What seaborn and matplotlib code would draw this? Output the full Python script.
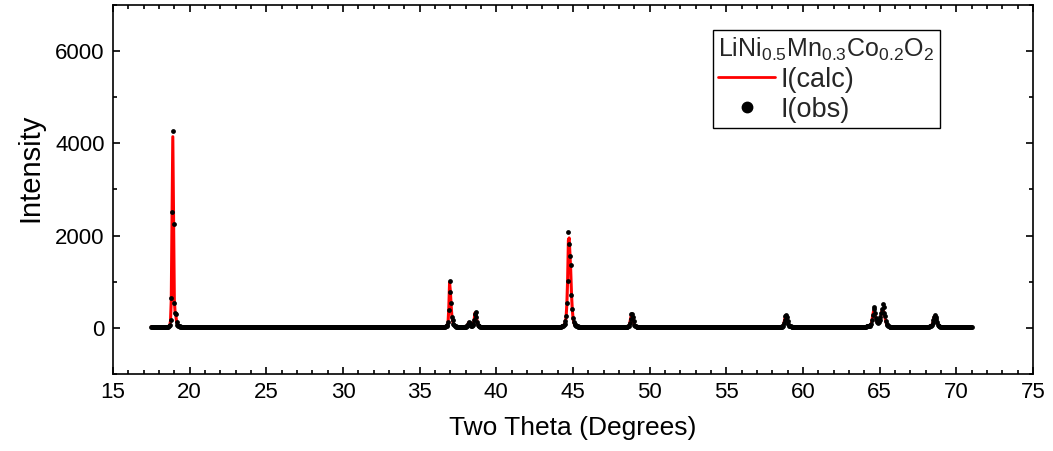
import numpy as np
import matplotlib
matplotlib.use("Agg")
import matplotlib.pyplot as plt
import seaborn as sns
from matplotlib.lines import Line2D
from matplotlib.ticker import MultipleLocator

# ---------------- data ----------------
# scan grid: 2-theta from 17.50 to 71.00 deg in 0.05 deg steps (20 values per row = 1 deg)
scan_start = 17.50
scan_step = 0.05

i_obs = [
    22, 21, 23, 20, 22, 21, 20, 22, 23, 21, 20, 22, 21, 23, 22, 21, 23, 24, 25, 25,  # 17.5
    26, 27, 28, 32, 60, 174, 645, 2507, 4267, 2254, 550, 320, 310, 137, 70, 45, 35, 30, 27, 25,  # 18.5
    24, 23, 22, 22, 21, 22, 20, 21, 22, 20, 21, 22, 20, 21, 19, 21, 20, 22, 21, 20,  # 19.5
    21, 20, 19, 21, 20, 22, 20, 19, 21, 20, 20, 21, 19, 20, 22, 20, 21, 19, 20, 21,  # 20.5
    20, 19, 21, 20, 22, 21, 20, 19, 20, 21, 20, 22, 19, 20, 21, 20, 19, 21, 20, 20,  # 21.5
    19, 21, 20, 20, 22, 19, 20, 21, 20, 19, 21, 20, 22, 20, 19, 21, 20, 20, 21, 19,  # 22.5
    20, 21, 19, 20, 20, 22, 21, 19, 20, 21, 20, 19, 21, 22, 20, 20, 19, 21, 20, 21,  # 23.5
    21, 20, 20, 19, 21, 20, 22, 20, 21, 19, 20, 21, 20, 20, 22, 21, 19, 20, 21, 20,  # 24.5
    20, 22, 21, 20, 19, 20, 21, 20, 21, 20, 19, 22, 20, 21, 20, 19, 20, 21, 22, 20,  # 25.5
    19, 20, 21, 21, 20, 19, 22, 20, 20, 21, 20, 19, 20, 21, 21, 20, 22, 19, 20, 21,  # 26.5
    21, 19, 20, 22, 20, 21, 20, 19, 21, 20, 22, 20, 21, 19, 20, 20, 21, 22, 20, 19,  # 27.5
    20, 21, 22, 20, 19, 21, 20, 20, 19, 21, 20, 21, 22, 20, 19, 21, 20, 21, 20, 20,  # 28.5
    22, 20, 19, 21, 20, 21, 20, 22, 20, 19, 21, 20, 20, 21, 19, 22, 20, 21, 20, 19,  # 29.5
    20, 20, 21, 19, 22, 20, 21, 20, 19, 20, 21, 22, 20, 19, 21, 20, 20, 21, 22, 20,  # 30.5
    21, 22, 20, 20, 19, 21, 20, 21, 20, 22, 19, 20, 21, 20, 20, 19, 22, 21, 20, 21,  # 31.5
    19, 20, 21, 22, 20, 20, 21, 19, 20, 21, 22, 20, 19, 21, 20, 21, 20, 19, 21, 20,  # 32.5
    20, 21, 20, 19, 21, 22, 20, 21, 20, 19, 20, 21, 21, 20, 22, 20, 19, 20, 21, 22,  # 33.5
    21, 20, 22, 20, 21, 19, 20, 20, 21, 22, 20, 19, 21, 20, 20, 21, 22, 20, 21, 21,  # 34.5
    20, 19, 21, 20, 22, 21, 20, 21, 20, 19, 21, 22, 20, 21, 21, 22, 21, 22, 22, 23,  # 35.5
    23, 24, 25, 27, 31, 38, 60, 120, 390, 1007, 767, 537, 246, 160, 90, 55, 40, 32, 28, 25,  # 36.5
    24, 23, 22, 22, 21, 22, 23, 23, 24, 26, 28, 33, 48, 90, 137, 110, 60, 42, 40, 52,  # 37.5
    80, 174, 300, 354, 246, 120, 60, 40, 31, 27, 25, 24, 23, 22, 22, 21, 22, 21, 20, 21,  # 38.5
    20, 21, 22, 20, 19, 21, 20, 20, 21, 22, 20, 19, 21, 20, 21, 20, 22, 20, 19, 21,  # 39.5
    21, 20, 19, 21, 20, 22, 20, 21, 20, 19, 21, 20, 22, 21, 20, 20, 19, 21, 20, 22,  # 40.5
    20, 21, 20, 22, 19, 20, 21, 20, 21, 20, 22, 21, 19, 20, 20, 21, 22, 20, 21, 20,  # 41.5
    19, 20, 22, 21, 20, 21, 19, 20, 21, 20, 20, 22, 21, 20, 19, 21, 20, 21, 22, 20,  # 42.5
    21, 20, 22, 21, 20, 21, 22, 21, 22, 23, 23, 24, 25, 26, 28, 30, 34, 40, 55, 90,  # 43.5
    140, 250, 550, 1007, 2080, 1826, 1565, 1370, 717, 406, 210, 120, 75, 52, 42, 35, 30, 27, 25, 24,  # 44.5
    23, 22, 22, 21, 20, 21, 22, 20, 21, 19, 20, 21, 20, 22, 20, 21, 19, 20, 21, 20,  # 45.5
    20, 21, 19, 20, 22, 20, 21, 20, 20, 19, 21, 22, 20, 21, 20, 19, 20, 21, 20, 22,  # 46.5
    21, 20, 20, 22, 21, 19, 20, 21, 20, 21, 22, 20, 19, 21, 20, 21, 22, 21, 22, 23,  # 47.5
    24, 26, 32, 48, 100, 200, 290, 300, 230, 140, 70, 45, 33, 28, 25, 23, 22, 22, 21, 20,  # 48.5
    21, 20, 19, 21, 20, 22, 20, 21, 20, 19, 21, 20, 20, 22, 21, 20, 19, 21, 20, 21,  # 49.5
    20, 22, 20, 19, 21, 20, 21, 20, 22, 20, 19, 21, 20, 21, 20, 20, 22, 19, 20, 21,  # 50.5
    19, 20, 21, 20, 20, 22, 21, 19, 20, 21, 20, 22, 20, 19, 21, 20, 21, 20, 22, 20,  # 51.5
    21, 21, 20, 22, 19, 20, 21, 20, 21, 20, 19, 21, 22, 20, 20, 21, 19, 20, 21, 20,  # 52.5
    20, 19, 21, 20, 21, 22, 20, 20, 19, 21, 20, 21, 20, 22, 21, 20, 20, 19, 21, 22,  # 53.5
    22, 20, 20, 21, 19, 20, 21, 22, 20, 21, 20, 19, 21, 20, 22, 20, 21, 20, 19, 20,  # 54.5
    20, 21, 22, 20, 21, 19, 20, 20, 21, 22, 20, 21, 19, 20, 21, 20, 22, 21, 20, 19,  # 55.5
    21, 20, 19, 21, 20, 21, 22, 20, 19, 20, 21, 20, 22, 21, 20, 20, 19, 21, 20, 21,  # 56.5
    20, 22, 20, 21, 20, 19, 21, 20, 22, 20, 21, 20, 21, 22, 20, 21, 21, 22, 22, 23,  # 57.5
    24, 26, 29, 36, 50, 100, 180, 260, 283, 230, 150, 80, 48, 36, 30, 26, 24, 23, 22, 21,  # 58.5
    20, 21, 20, 22, 19, 21, 20, 20, 21, 22, 20, 19, 21, 20, 21, 20, 20, 22, 21, 20,  # 59.5
    21, 19, 20, 21, 20, 22, 20, 21, 19, 20, 21, 20, 22, 20, 21, 19, 20, 21, 20, 21,  # 60.5
    20, 20, 22, 21, 20, 19, 21, 20, 21, 20, 22, 21, 20, 19, 20, 21, 22, 20, 21, 20,  # 61.5
    22, 20, 21, 20, 19, 21, 20, 22, 20, 21, 20, 19, 21, 22, 20, 20, 21, 19, 20, 21,  # 62.5
    21, 20, 22, 21, 21, 22, 23, 22, 24, 25, 26, 27, 29, 31, 33, 36, 40, 48, 60, 90,  # 63.5
    180, 283, 463, 420, 333, 220, 160, 120, 110, 120, 160, 230, 330, 420, 515, 450, 333, 250, 150, 80,  # 64.5
    52, 38, 31, 27, 25, 24, 23, 22, 22, 21, 22, 20, 21, 21, 20, 22, 21, 20, 21, 20,  # 65.5
    19, 21, 20, 22, 20, 21, 20, 19, 21, 20, 22, 20, 21, 20, 19, 21, 20, 22, 20, 21,  # 66.5
    20, 21, 20, 22, 21, 21, 22, 21, 22, 23, 22, 23, 24, 25, 27, 30, 35, 45, 65, 100,  # 67.5
    160, 240, 270, 246, 200, 130, 70, 45, 35, 29, 26, 24, 23, 22, 21, 22, 21, 20, 21, 20,  # 68.5
    21, 20, 19, 21, 20, 22, 20, 21, 20, 19, 21, 20, 22, 20, 21, 20, 19, 21, 20, 20,  # 69.5
    20, 21, 20, 19, 21, 20, 22, 20, 21, 20, 21,  # 70.5 - 71.0
]

i_calc = [
    22, 22, 22, 22, 22, 22, 22, 22, 22, 22, 22, 22, 22, 22, 22, 22, 23, 23, 24, 25,  # 17.5
    26, 27, 28, 32, 50, 150, 600, 2450, 4145, 2300, 600, 330, 260, 130, 70, 45, 35, 30, 27, 25,  # 18.5
    24, 23, 22, 22, 22, 22, 22, 22, 22, 22, 22, 22, 22, 22, 22, 22, 22, 22, 22, 22,  # 19.5
    21, 21, 21, 21, 21, 21, 21, 21, 21, 21, 21, 21, 21, 21, 21, 21, 21, 21, 21, 21,  # 20.5
    21, 21, 21, 21, 21, 21, 21, 21, 21, 21, 21, 21, 21, 21, 21, 21, 21, 21, 21, 21,  # 21.5
    21, 21, 21, 21, 21, 21, 21, 21, 21, 21, 21, 21, 21, 21, 21, 21, 21, 21, 21, 21,  # 22.5
    21, 21, 21, 21, 21, 21, 21, 21, 21, 21, 21, 21, 21, 21, 21, 21, 21, 21, 21, 21,  # 23.5
    21, 21, 21, 21, 21, 21, 21, 21, 21, 21, 21, 21, 21, 21, 21, 21, 21, 21, 21, 21,  # 24.5
    21, 21, 21, 21, 21, 21, 21, 21, 21, 21, 21, 21, 21, 21, 21, 21, 21, 21, 21, 21,  # 25.5
    21, 21, 21, 21, 21, 21, 21, 21, 21, 21, 21, 21, 21, 21, 21, 21, 21, 21, 21, 21,  # 26.5
    21, 21, 21, 21, 21, 21, 21, 21, 21, 21, 21, 21, 21, 21, 21, 21, 21, 21, 21, 21,  # 27.5
    21, 21, 21, 21, 21, 21, 21, 21, 21, 21, 21, 21, 21, 21, 21, 21, 21, 21, 21, 21,  # 28.5
    21, 21, 21, 21, 21, 21, 21, 21, 21, 21, 21, 21, 21, 21, 21, 21, 21, 21, 21, 21,  # 29.5
    21, 21, 21, 21, 21, 21, 21, 21, 21, 21, 21, 21, 21, 21, 21, 21, 21, 21, 21, 21,  # 30.5
    21, 21, 21, 21, 21, 21, 21, 21, 21, 21, 21, 21, 21, 21, 21, 21, 21, 21, 21, 21,  # 31.5
    21, 21, 21, 21, 21, 21, 21, 21, 21, 21, 21, 21, 21, 21, 21, 21, 21, 21, 21, 21,  # 32.5
    21, 21, 21, 21, 21, 21, 21, 21, 21, 21, 21, 21, 21, 21, 21, 21, 21, 21, 21, 21,  # 33.5
    21, 21, 21, 21, 21, 21, 21, 21, 21, 21, 21, 21, 21, 21, 21, 21, 21, 21, 21, 21,  # 34.5
    21, 21, 21, 21, 21, 21, 21, 21, 21, 21, 21, 21, 21, 21, 21, 22, 22, 22, 22, 22,  # 35.5
    22, 23, 25, 27, 31, 38, 58, 110, 420, 980, 800, 500, 260, 150, 85, 55, 40, 32, 28, 25,  # 36.5
    24, 23, 22, 22, 22, 22, 22, 23, 24, 26, 28, 32, 46, 85, 120, 105, 62, 43, 42, 52,  # 37.5
    78, 160, 320, 330, 250, 120, 62, 40, 31, 27, 25, 24, 23, 22, 22, 21, 21, 21, 21, 21,  # 38.5
    21, 21, 21, 21, 21, 21, 21, 21, 21, 21, 21, 21, 21, 21, 21, 21, 21, 21, 21, 21,  # 39.5
    21, 21, 21, 21, 21, 21, 21, 21, 21, 21, 21, 21, 21, 21, 21, 21, 21, 21, 21, 21,  # 40.5
    21, 21, 21, 21, 21, 21, 21, 21, 21, 21, 21, 21, 21, 21, 21, 21, 21, 21, 21, 21,  # 41.5
    21, 21, 21, 21, 21, 21, 21, 21, 21, 21, 21, 21, 21, 21, 21, 21, 21, 21, 21, 21,  # 42.5
    21, 21, 21, 21, 21, 21, 21, 21, 22, 22, 23, 24, 25, 26, 28, 30, 34, 40, 55, 88,  # 43.5
    130, 230, 520, 1050, 1900, 1950, 1600, 1250, 750, 420, 220, 120, 75, 52, 42, 35, 30, 27, 25, 24,  # 44.5
    23, 22, 22, 21, 21, 21, 21, 21, 21, 21, 21, 21, 21, 21, 21, 21, 21, 21, 21, 21,  # 45.5
    21, 21, 21, 21, 21, 21, 21, 21, 21, 21, 21, 21, 21, 21, 21, 21, 21, 21, 21, 21,  # 46.5
    21, 21, 21, 21, 21, 21, 21, 21, 21, 21, 21, 21, 21, 21, 21, 21, 21, 22, 22, 23,  # 47.5
    24, 26, 32, 47, 95, 190, 270, 280, 220, 130, 68, 45, 33, 28, 25, 23, 22, 22, 21, 21,  # 48.5
    21, 21, 21, 21, 21, 21, 21, 21, 21, 21, 21, 21, 21, 21, 21, 21, 21, 21, 21, 21,  # 49.5
    21, 21, 21, 21, 21, 21, 21, 21, 21, 21, 21, 21, 21, 21, 21, 21, 21, 21, 21, 21,  # 50.5
    21, 21, 21, 21, 21, 21, 21, 21, 21, 21, 21, 21, 21, 21, 21, 21, 21, 21, 21, 21,  # 51.5
    21, 21, 21, 21, 21, 21, 21, 21, 21, 21, 21, 21, 21, 21, 21, 21, 21, 21, 21, 21,  # 52.5
    21, 21, 21, 21, 21, 21, 21, 21, 21, 21, 21, 21, 21, 21, 21, 21, 21, 21, 21, 21,  # 53.5
    21, 21, 21, 21, 21, 21, 21, 21, 21, 21, 21, 21, 21, 21, 21, 21, 21, 21, 21, 21,  # 54.5
    21, 21, 21, 21, 21, 21, 21, 21, 21, 21, 21, 21, 21, 21, 21, 21, 21, 21, 21, 21,  # 55.5
    21, 21, 21, 21, 21, 21, 21, 21, 21, 21, 21, 21, 21, 21, 21, 21, 21, 21, 21, 21,  # 56.5
    21, 21, 21, 21, 21, 21, 21, 21, 21, 21, 21, 21, 21, 21, 21, 21, 21, 22, 22, 23,  # 57.5
    24, 26, 29, 36, 50, 95, 175, 245, 265, 225, 150, 80, 48, 36, 30, 26, 24, 23, 22, 21,  # 58.5
    21, 21, 21, 21, 21, 21, 21, 21, 21, 21, 21, 21, 21, 21, 21, 21, 21, 21, 21, 21,  # 59.5
    21, 21, 21, 21, 21, 21, 21, 21, 21, 21, 21, 21, 21, 21, 21, 21, 21, 21, 21, 21,  # 60.5
    21, 21, 21, 21, 21, 21, 21, 21, 21, 21, 21, 21, 21, 21, 21, 21, 21, 21, 21, 21,  # 61.5
    21, 21, 21, 21, 21, 21, 21, 21, 21, 21, 21, 21, 21, 21, 21, 21, 21, 21, 21, 21,  # 62.5
    21, 21, 21, 21, 21, 21, 22, 22, 23, 24, 25, 26, 28, 30, 33, 36, 40, 47, 58, 85,  # 63.5
    160, 280, 360, 350, 300, 220, 150, 115, 105, 115, 150, 220, 300, 370, 385, 370, 300, 220, 140, 80,  # 64.5
    52, 38, 31, 27, 25, 24, 23, 22, 22, 21, 21, 21, 21, 21, 21, 21, 21, 21, 21, 21,  # 65.5
    21, 21, 21, 21, 21, 21, 21, 21, 21, 21, 21, 21, 21, 21, 21, 21, 21, 21, 21, 21,  # 66.5
    21, 21, 21, 21, 21, 21, 21, 21, 22, 22, 22, 23, 24, 25, 27, 30, 35, 44, 62, 95,  # 67.5
    150, 230, 255, 235, 190, 125, 70, 45, 35, 29, 26, 24, 23, 22, 21, 21, 21, 21, 21, 21,  # 68.5
    21, 21, 21, 21, 21, 21, 21, 21, 21, 21, 21, 21, 21, 21, 21, 21, 21, 21, 21, 21,  # 69.5
    21, 21, 21, 21, 21, 21, 21, 21, 21, 21, 21,  # 70.5 - 71.0
]

x_ticks = [15, 20, 25, 30, 35, 40, 45, 50, 55, 60, 65, 70, 75]
y_ticks = [0, 2000, 4000, 6000]
series_labels = ["I(calc)", "I(obs)"]
legend_title = "LiNi$_{0.5}$Mn$_{0.3}$Co$_{0.2}$O$_2$"
x_label = "Two Theta (Degrees)"
y_label = "Intensity"

# ---------------- plotting ----------------
two_theta = scan_start + scan_step * np.arange(len(i_obs))

sns.set_style("ticks")
plt.rcParams["font.family"] = ["Liberation Sans", "DejaVu Sans"]
plt.rcParams["mathtext.fontset"] = "custom"
plt.rcParams["mathtext.rm"] = "Liberation Sans"
plt.rcParams["mathtext.it"] = "Liberation Sans"
plt.rcParams["mathtext.default"] = "regular"

fig = plt.figure(figsize=(10.53, 4.51), dpi=100)
ax = fig.add_axes([113 / 1053, 1 - 374 / 451, 920 / 1053, 369 / 451])

sns.lineplot(x=two_theta, y=i_calc, color="red", linewidth=2.2,
             estimator=None, sort=False, ax=ax, zorder=2)
sns.scatterplot(x=two_theta, y=i_obs, color="black", s=12, linewidth=0,
                ax=ax, zorder=3)

ax.set_xlim(15, 75)
ax.set_ylim(-1000, 7000)
ax.set_xticks(x_ticks)
ax.set_yticks(y_ticks)
ax.xaxis.set_minor_locator(MultipleLocator(1))
ax.yaxis.set_minor_locator(MultipleLocator(1000))

for sp in ax.spines.values():
    sp.set_visible(True)
    sp.set_color("black")
    sp.set_linewidth(1.2)

ax.tick_params(which="both", direction="in", top=True, right=True,
               labeltop=False, labelright=False, color="black", width=1.2)
ax.tick_params(which="major", length=5, labelsize=16, pad=6, labelcolor="black")
ax.tick_params(which="minor", length=3)

ax.set_xlabel(x_label, fontsize=19, color="black")
ax.set_ylabel(y_label, fontsize=21, color="black")
ax.xaxis.set_label_coords(0.5, -0.115)
ax.yaxis.set_label_coords(-0.075, 0.558)

handles = [
    Line2D([], [], color="red", linewidth=2.0),
    Line2D([], [], color="black", marker="o", linestyle="", markersize=7.5),
]
leg = ax.legend(handles, series_labels, title=legend_title,
                loc="upper left", bbox_to_anchor=(0.652, 0.932),
                borderaxespad=0, fontsize=19.5, title_fontsize=18,
                frameon=True, fancybox=False, framealpha=1, edgecolor="black",
                handlelength=2.1, handletextpad=0.2, labelspacing=0.15,
                borderpad=0.2, alignment="left")
leg.get_frame().set_linewidth(1.0)

fig.savefig("out.png", dpi=100)
